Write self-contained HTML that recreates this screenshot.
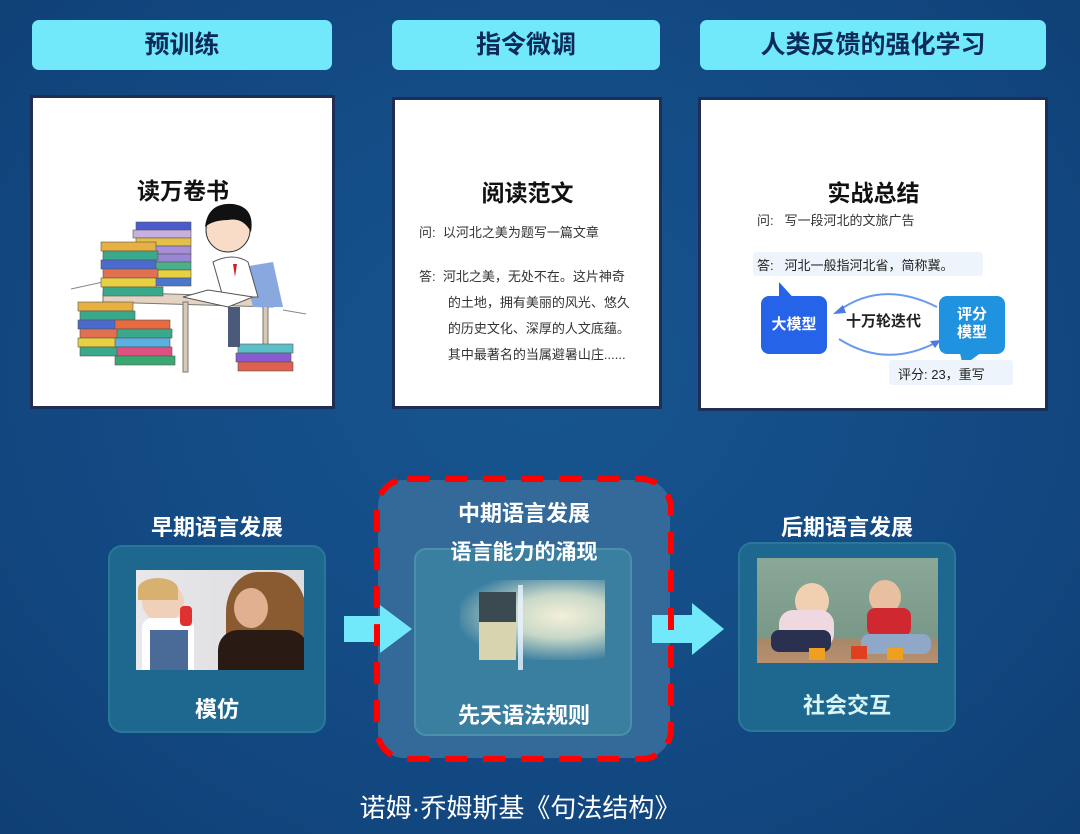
<!DOCTYPE html>
<html><head><meta charset="utf-8"><style>
*{margin:0;padding:0;box-sizing:border-box}
body{width:1080px;height:834px;overflow:hidden;background:radial-gradient(ellipse at 50% 45%,#17558f 0%,#134a84 55%,#0f3f74 100%);font-family:"Liberation Sans","Noto Sans CJK SC",sans-serif;position:relative}
.a{position:absolute}
.pill{position:absolute;background:#72e9fa;border-radius:7px;top:20px;height:50px;color:#0d2a5a;font-weight:bold;font-size:25px;text-align:center;line-height:50px}
.card{position:absolute;background:#fff;border:3px solid #1f2e55}
.in{position:absolute;left:0;top:-6px;width:100%;height:100%}
.t{position:absolute;font-weight:bold;color:#111;text-align:center}
.s{position:absolute;font-size:13px;color:#333;white-space:nowrap}
.panel{position:absolute;background:#1e6890;border:2px solid #2a7898;border-radius:14px}
.wt{position:absolute;color:#fff;font-weight:bold;font-size:22px;text-align:center;white-space:nowrap}
</style></head><body>
<div class="pill" style="left:32px;width:300px">预训练</div>
<div class="pill" style="left:392px;width:268px">指令微调</div>
<div class="pill" style="left:700px;width:346px">人类反馈的强化学习</div>

<div class="card" style="left:30px;top:95px;width:305px;height:314px"><div class="in">
<div class="t" style="left:0;width:300px;top:80px;font-size:23px">读万卷书</div>
<svg class="a" style="left:0;top:0" width="300" height="310">
<line x1="38" y1="197" x2="70" y2="190" stroke="#888"/><line x1="250" y1="218" x2="273" y2="222" stroke="#888"/>
<polygon points="70,200 240,205 240,215 70,210" fill="#e3d3c0" stroke="#777"/>
<rect x="150" y="210" width="5" height="70" fill="#d9c8b4" stroke="#777"/><rect x="230" y="210" width="5" height="50" fill="#d9c8b4" stroke="#777"/>
<g stroke="#555" stroke-width=".6">
<rect x="103" y="130" width="55" height="8" fill="#4a5ccc"/><rect x="100" y="138" width="58" height="8" fill="#c7b0e0"/><rect x="103" y="146" width="55" height="8" fill="#e5c048"/><rect x="100" y="154" width="58" height="8" fill="#a78fd8"/><rect x="103" y="162" width="55" height="8" fill="#9b86d4"/><rect x="100" y="170" width="58" height="8" fill="#4ab08a"/><rect x="103" y="178" width="55" height="8" fill="#e8d040"/><rect x="100" y="186" width="58" height="8" fill="#4a76cc"/>
<rect x="68" y="150" width="55" height="9" fill="#e6b043"/><rect x="70" y="159" width="55" height="9" fill="#3aa88a"/><rect x="68" y="168" width="55" height="9" fill="#4a6ad0"/><rect x="70" y="177" width="55" height="9" fill="#e07050"/><rect x="68" y="186" width="55" height="9" fill="#e8d040"/><rect x="70" y="195" width="60" height="9" fill="#3aa88a"/>
<rect x="45" y="210" width="55" height="9" fill="#e6b043"/><rect x="47" y="219" width="55" height="9" fill="#3aa88a"/><rect x="45" y="228" width="55" height="9" fill="#4a6ad0"/><rect x="47" y="237" width="55" height="9" fill="#e07050"/><rect x="45" y="246" width="55" height="9" fill="#e8d040"/><rect x="47" y="255" width="55" height="9" fill="#3aa88a"/>
<rect x="82" y="228" width="55" height="9" fill="#e86a40"/><rect x="84" y="237" width="55" height="9" fill="#3aa88a"/><rect x="82" y="246" width="55" height="9" fill="#5ab0e0"/><rect x="84" y="255" width="55" height="9" fill="#e05080"/><rect x="82" y="264" width="60" height="9" fill="#3aa870"/>
<rect x="205" y="252" width="55" height="9" fill="#5ac0c8"/><rect x="203" y="261" width="55" height="9" fill="#8a5ad0"/><rect x="205" y="270" width="55" height="9" fill="#e06050"/>
</g>
<path d="M210 175 L240 170 L250 215 L220 215 Z" fill="#8aa8e0"/>
<path d="M180 170 Q200 160 215 170 L225 205 L190 205 Z" fill="#fff" stroke="#555"/>
<polygon points="200,172 204,172 202,185" fill="#d02020"/>
<circle cx="195" cy="138" r="22" fill="#f8dcc8" stroke="#333"/>
<path d="M172 135 Q175 110 200 112 Q222 115 218 140 Q210 125 195 128 Q180 128 172 135Z" fill="#111"/>
<path d="M150 205 L175 198 L220 205 L195 215Z" fill="#fff" stroke="#555"/>
<rect x="195" y="215" width="12" height="40" fill="#4a5a78"/>
</svg>
</div></div>

<div class="card" style="left:392px;top:97px;width:270px;height:312px"><div class="in">
<div class="t" style="left:0;width:265px;top:80px;font-size:23px">阅读范文</div>
<div class="s" style="left:24px;top:128px">问:&nbsp;&nbsp;以河北之美为题写一篇文章</div>
<div class="s" style="left:24px;top:170px;line-height:26px">答:&nbsp;&nbsp;河北之美，无处不在。这片神奇<br>&nbsp;&nbsp;&nbsp;&nbsp;&nbsp;&nbsp;&nbsp;&nbsp;的土地，拥有美丽的风光、悠久<br>&nbsp;&nbsp;&nbsp;&nbsp;&nbsp;&nbsp;&nbsp;&nbsp;的历史文化、深厚的人文底蕴。<br>&nbsp;&nbsp;&nbsp;&nbsp;&nbsp;&nbsp;&nbsp;&nbsp;其中最著名的当属避暑山庄......</div>
</div></div>

<div class="card" style="left:698px;top:97px;width:350px;height:314px"><div class="in">
<div class="t" style="left:0;width:345px;top:80px;font-size:23px">实战总结</div>
<div class="s" style="left:56px;top:116px">问:&nbsp;&nbsp;&nbsp;写一段河北的文旅广告</div>
<div class="a" style="left:52px;top:158px;width:230px;height:24px;background:#eef4fb;border-radius:3px"></div>
<div class="s" style="left:56px;top:161px;color:#222">答:&nbsp;&nbsp;&nbsp;河北一般指河北省，简称冀。</div>
<svg class="a" style="left:0;top:0" width="345" height="310">
<polygon points="78,188 78,210 98,210" fill="#2563e8"/>
<path d="M136 218 Q180 185 236 213" fill="none" stroke="#6a9af0" stroke-width="2"/>
<polygon points="132,220 142,211 145,219" fill="#4a7ae8"/>
<path d="M138 245 Q185 275 236 248" fill="none" stroke="#6a9af0" stroke-width="2"/>
<polygon points="240,246 229,247 234,254" fill="#4a7ae8"/>
<polygon points="258,255 285,255 262,272" fill="#1f93e0"/>
</svg>
<div class="a" style="left:60px;top:202px;width:66px;height:58px;background:#2563e8;border-radius:8px;color:#fff;font-weight:bold;font-size:15px;text-align:center;line-height:58px">大模型</div>
<div class="a" style="left:145px;top:216px;font-weight:bold;font-size:15px;color:#222">十万轮迭代</div>
<div class="a" style="left:238px;top:202px;width:66px;height:58px;background:#1f93e0;border-radius:8px;color:#fff;font-weight:bold;font-size:15px;text-align:center;line-height:18px;padding-top:10px">评分<br>模型</div>
<div class="a" style="left:188px;top:266px;width:124px;height:25px;background:#eef4fb;border-radius:3px"></div>
<div class="s" style="left:197px;top:270px;color:#222">评分:&nbsp;23，重写</div>
</div></div>

<!-- bottom -->
<div class="wt" style="left:108px;width:218px;top:510px">早期语言发展</div>
<div class="panel" style="left:108px;top:545px;width:218px;height:188px"></div>
<div class="a" style="left:136px;top:570px;width:168px;height:100px;background:linear-gradient(90deg,#e8e8ea,#dcdcde);overflow:hidden">
<div class="a" style="left:6px;top:12px;width:42px;height:40px;border-radius:50%;background:#f0d0b8"></div>
<div class="a" style="left:2px;top:8px;width:40px;height:22px;border-radius:50% 50% 0 0;background:#d8b070"></div>
<div class="a" style="left:6px;top:48px;width:52px;height:52px;background:#fff;border-radius:10px 10px 0 0"></div>
<div class="a" style="left:14px;top:60px;width:38px;height:40px;background:#4a6a98"></div>
<div class="a" style="left:44px;top:36px;width:12px;height:20px;background:#e03030;border-radius:4px"></div>
<div class="a" style="left:90px;top:2px;width:80px;height:100px;border-radius:40% 40% 0 0;background:#8a5a30"></div>
<div class="a" style="left:98px;top:18px;width:34px;height:40px;border-radius:50%;background:#e0b090"></div>
<div class="a" style="left:82px;top:60px;width:90px;height:40px;background:#2a1a14;border-radius:20px 20px 0 0"></div>
</div>
<div class="wt" style="left:108px;width:218px;top:692px">模仿</div>

<div class="a" style="left:378px;top:480px;width:292px;height:278px;background:#346a9a;border-radius:26px"></div>
<div class="a" style="left:414px;top:548px;width:218px;height:188px;background:#3a7ea0;border:2px solid #4a90a8;border-radius:12px"></div>
<div class="a" style="left:460px;top:580px;width:145px;height:80px;background:radial-gradient(ellipse at 70% 45%,#f4f0d8 0%,#c8d8c8 35%,rgba(58,126,160,0) 75%)"></div>
<div class="a" style="left:479px;top:592px;width:37px;height:68px;background:#d8d4b0"></div>
<div class="a" style="left:479px;top:592px;width:37px;height:30px;background:#3a4a50"></div>
<div class="a" style="left:518px;top:585px;width:5px;height:85px;background:#e8f4ff;opacity:.8"></div>
<svg class="a" style="left:340px;top:603px" width="75" height="52"><polygon points="4,13 40,13 40,2 72,26 40,50 40,39 4,39" fill="#72e9fa"/></svg>
<svg class="a" style="left:650px;top:603px" width="75" height="52"><polygon points="2,12 42,12 42,0 74,26 42,52 42,40 2,40" fill="#72e9fa"/></svg>
<svg class="a" style="left:372px;top:474px" width="304" height="290"><rect x="5" y="5" width="294" height="280" rx="30" fill="none" stroke="#ff0000" stroke-width="6" stroke-dasharray="22 16"/></svg>
<div class="wt" style="left:378px;width:292px;top:496px">中期语言发展</div>
<div class="wt" style="left:378px;width:292px;top:536px;font-size:21px">语言能力的涌现</div>
<div class="wt" style="left:378px;width:292px;top:698px">先天语法规则</div>

<div class="wt" style="left:738px;width:218px;top:510px">后期语言发展</div>
<div class="panel" style="left:738px;top:542px;width:218px;height:190px"></div>
<div class="a" style="left:757px;top:558px;width:181px;height:105px;background:linear-gradient(180deg,#8aa898 0%,#7a9888 75%,#a88868 78%,#b89070 100%);overflow:hidden">
<div class="a" style="left:38px;top:25px;width:34px;height:36px;border-radius:50%;background:#f0d0b0"></div>
<div class="a" style="left:22px;top:52px;width:55px;height:38px;background:#f0d8e0;border-radius:14px"></div>
<div class="a" style="left:14px;top:72px;width:60px;height:22px;background:#2a3050;border-radius:8px"></div>
<div class="a" style="left:112px;top:22px;width:32px;height:34px;border-radius:50%;background:#e8c0a0"></div>
<div class="a" style="left:110px;top:50px;width:44px;height:28px;background:#d02830;border-radius:8px"></div>
<div class="a" style="left:104px;top:76px;width:70px;height:20px;background:#90a8c8;border-radius:8px"></div>
<div class="a" style="left:52px;top:90px;width:16px;height:12px;background:#f0a020"></div>
<div class="a" style="left:94px;top:88px;width:16px;height:13px;background:#e04020"></div>
<div class="a" style="left:130px;top:90px;width:16px;height:12px;background:#f0a020"></div>
</div>
<div class="wt" style="left:738px;width:218px;top:688px;color:#d8f4f4">社会交互</div>

<div class="a" style="left:340px;top:788px;width:360px;text-align:center;color:#fff;font-size:26px">诺姆·乔姆斯基《句法结构》</div>
</body></html>
